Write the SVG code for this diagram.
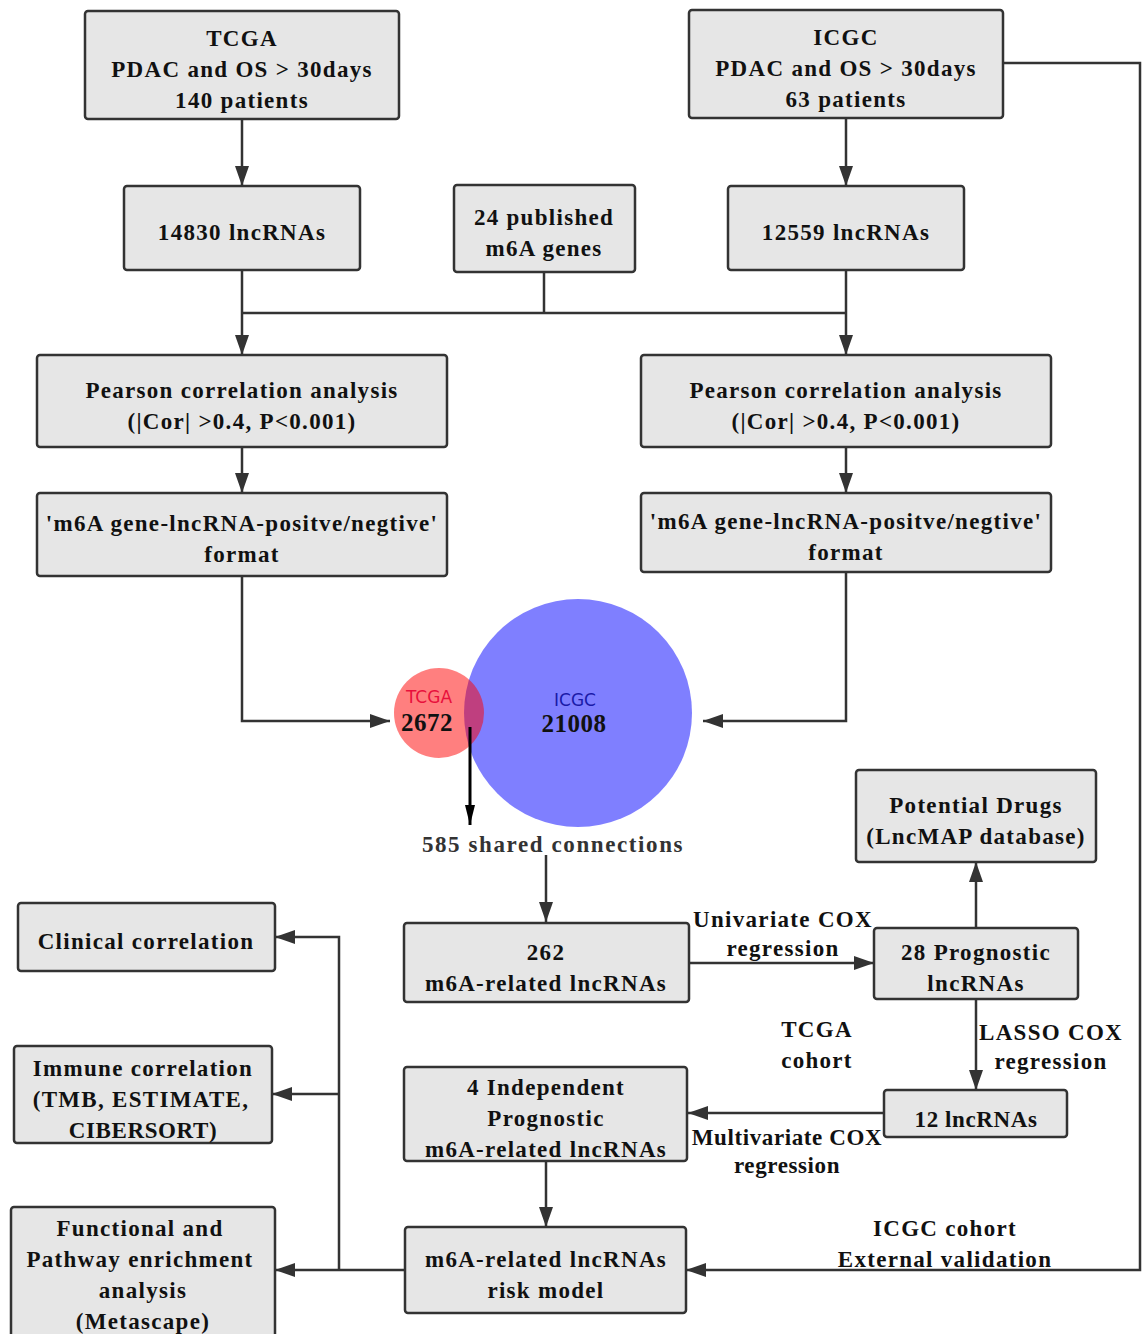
<svg xmlns="http://www.w3.org/2000/svg" width="1144" height="1334" viewBox="0 0 1144 1334">
<defs>
<style>
.box{fill:#e6e6e6;stroke:#333;stroke-width:2.5}
.t{font-family:"Liberation Serif","Times New Roman",serif;font-weight:bold;font-size:23px;letter-spacing:1.3px;fill:#111;text-anchor:middle}
.n{letter-spacing:0.6px}
.c{fill:none;stroke:#333;stroke-width:2.5}
</style>
<marker id="ah" viewBox="0 0 20 14" refX="20" refY="7" markerWidth="20" markerHeight="14" markerUnits="userSpaceOnUse" orient="auto">
<path d="M0,0 L20,7 L0,14 Z" fill="#333"/>
</marker>
<marker id="ahk" viewBox="0 0 10 20" refX="5" refY="20" markerWidth="10" markerHeight="20" markerUnits="userSpaceOnUse" orient="0">
<path d="M0,0 L10,0 L5,20 Z" fill="#000"/>
</marker>
</defs>
<rect width="1144" height="1334" fill="#fff"/>

<g id="connectors">
<path class="c" d="M242,119 V186" marker-end="url(#ah)"/>
<path class="c" d="M846,118 V186" marker-end="url(#ah)"/>
<path class="c" d="M242,270 V355" marker-end="url(#ah)"/>
<path class="c" d="M846,270 V355" marker-end="url(#ah)"/>
<path class="c" d="M242,313 H846"/>
<path class="c" d="M544,272 V313"/>
<path class="c" d="M242,447 V493" marker-end="url(#ah)"/>
<path class="c" d="M846,447 V493" marker-end="url(#ah)"/>
<path class="c" d="M242,576 V721 H390" marker-end="url(#ah)"/>
<path class="c" d="M846,572 V721 H703" marker-end="url(#ah)"/>
<path class="c" d="M546,855 V922" marker-end="url(#ah)"/>
<path class="c" d="M689,963 H874" marker-end="url(#ah)"/>
<path class="c" d="M976,928 V862" marker-end="url(#ah)"/>
<path class="c" d="M976,999 V1090" marker-end="url(#ah)"/>
<path class="c" d="M884,1113 H688" marker-end="url(#ah)"/>
<path class="c" d="M546,1161 V1227" marker-end="url(#ah)"/>
<path class="c" d="M1003,63 H1140 V1270 H686" marker-end="url(#ah)"/>
<path class="c" d="M405,1270 H275" marker-end="url(#ah)"/>
<path class="c" d="M339,1270 V937 H275" marker-end="url(#ah)"/>
<path class="c" d="M339,1094 H272" marker-end="url(#ah)"/>
</g>

<g id="tcga">
<rect class="box" x="85" y="11" width="314" height="108" rx="3"/>
<text class="t" x="242" y="46">TCGA</text>
<text class="t" x="242" y="77">PDAC and OS &gt; 30days</text>
<text class="t" x="242" y="108">140 patients</text>
</g>
<g id="icgc">
<rect class="box" x="689" y="10" width="314" height="108" rx="3"/>
<text class="t" x="846" y="45">ICGC</text>
<text class="t" x="846" y="76">PDAC and OS &gt; 30days</text>
<text class="t" x="846" y="107">63 patients</text>
</g>
<g id="lnc14830">
<rect class="box" x="124" y="186" width="236" height="84" rx="3"/>
<text class="t" x="242" y="240">14830 lncRNAs</text>
</g>
<g id="m6agenes">
<rect class="box" x="454" y="185" width="181" height="87" rx="3"/>
<text class="t" x="544" y="225">24 published</text>
<text class="t" x="544" y="256">m6A genes</text>
</g>
<g id="lnc12559">
<rect class="box" x="728" y="186" width="236" height="84" rx="3"/>
<text class="t" x="846" y="240">12559 lncRNAs</text>
</g>
<g id="pearsonL">
<rect class="box" x="37" y="355" width="410" height="92" rx="3"/>
<text class="t" x="242" y="398">Pearson correlation analysis</text>
<text class="t" x="242" y="429">(|Cor| &gt;0.4, P&lt;0.001)</text>
</g>
<g id="pearsonR">
<rect class="box" x="641" y="355" width="410" height="92" rx="3"/>
<text class="t" x="846" y="398">Pearson correlation analysis</text>
<text class="t" x="846" y="429">(|Cor| &gt;0.4, P&lt;0.001)</text>
</g>
<g id="formatL">
<rect class="box" x="37" y="493" width="410" height="83" rx="3"/>
<text class="t" x="242" y="531">'m6A gene-lncRNA-positve/negtive'</text>
<text class="t" x="242" y="562">format</text>
</g>
<g id="formatR">
<rect class="box" x="641" y="493" width="410" height="79" rx="3"/>
<text class="t" x="846" y="529">'m6A gene-lncRNA-positve/negtive'</text>
<text class="t" x="846" y="560">format</text>
</g>

<g id="venn">
<circle cx="578" cy="713" r="114" fill="#0000ff" fill-opacity="0.5"/>
<circle cx="439" cy="713" r="45" fill="#ff0000" fill-opacity="0.5"/>
<text x="429" y="703" font-family="'DejaVu Sans',sans-serif" font-size="17" fill="#e8103c" text-anchor="middle">TCGA</text>
<text class="t" x="427" y="731" style="font-size:25px;letter-spacing:0.5px">2672</text>
<text x="575" y="706" font-family="'DejaVu Sans',sans-serif" font-size="17" fill="#1a1aa8" text-anchor="middle">ICGC</text>
<text class="t" x="574" y="732" style="font-size:25px;letter-spacing:0.5px">21008</text>
<path d="M470,727 V825" stroke="#000" stroke-width="3" marker-end="url(#ahk)"/>
<text class="t" x="553" y="852" style="fill:#333;letter-spacing:1.6px">585 shared connections</text>
</g>

<g id="lnc262">
<rect class="box" x="404" y="923" width="285" height="79" rx="3"/>
<text class="t" x="546" y="960">262</text>
<text class="t" x="546" y="991">m6A-related lncRNAs</text>
</g>
<g id="prog28">
<rect class="box" x="874" y="928" width="204" height="71" rx="3"/>
<text class="t" x="976" y="960">28 Prognostic</text>
<text class="t" x="976" y="991">lncRNAs</text>
</g>
<g id="drugs">
<rect class="box" x="856" y="770" width="240" height="92" rx="3"/>
<text class="t" x="976" y="813">Potential Drugs</text>
<text class="t" x="976" y="844">(LncMAP database)</text>
</g>
<g id="lnc12">
<rect class="box" x="884" y="1090" width="183" height="47" rx="3"/>
<text class="t n" x="976" y="1127">12 lncRNAs</text>
</g>
<g id="indep4">
<rect class="box" x="404" y="1067" width="283" height="94" rx="3"/>
<text class="t" x="546" y="1095">4 Independent</text>
<text class="t" x="546" y="1126">Prognostic</text>
<text class="t" x="546" y="1157">m6A-related lncRNAs</text>
</g>
<g id="riskmodel">
<rect class="box" x="405" y="1227" width="281" height="86" rx="3"/>
<text class="t" x="546" y="1267">m6A-related lncRNAs</text>
<text class="t" x="546" y="1298">risk model</text>
</g>
<g id="clinical">
<rect class="box" x="18" y="903" width="257" height="68" rx="3"/>
<text class="t" x="146" y="949">Clinical correlation</text>
</g>
<g id="immune">
<rect class="box" x="14" y="1046" width="258" height="97" rx="3"/>
<text class="t" x="143" y="1076">Immune correlation</text>
<text class="t" x="141" y="1107">(TMB, ESTIMATE,</text>
<text class="t n" x="143" y="1138">CIBERSORT)</text>
</g>
<g id="functional">
<rect class="box" x="11" y="1207" width="264" height="132" rx="3"/>
<text class="t" x="140" y="1236">Functional and</text>
<text class="t" x="140" y="1267">Pathway enrichment</text>
<text class="t" x="143" y="1298">analysis</text>
<text class="t" x="143" y="1329">(Metascape)</text>
</g>

<g id="labels">
<text class="t" x="783" y="927">Univariate COX</text>
<text class="t" x="783" y="956">regression</text>
<text class="t" x="1051" y="1040">LASSO COX</text>
<text class="t" x="1051" y="1069">regression</text>
<text class="t" x="817" y="1037">TCGA</text>
<text class="t" x="817" y="1068">cohort</text>
<text class="t n" x="787" y="1145">Multivariate COX</text>
<text class="t n" x="787" y="1173">regression</text>
<text class="t" x="945" y="1236">ICGC cohort</text>
<text class="t" x="945" y="1267">External validation</text>
</g>
</svg>
